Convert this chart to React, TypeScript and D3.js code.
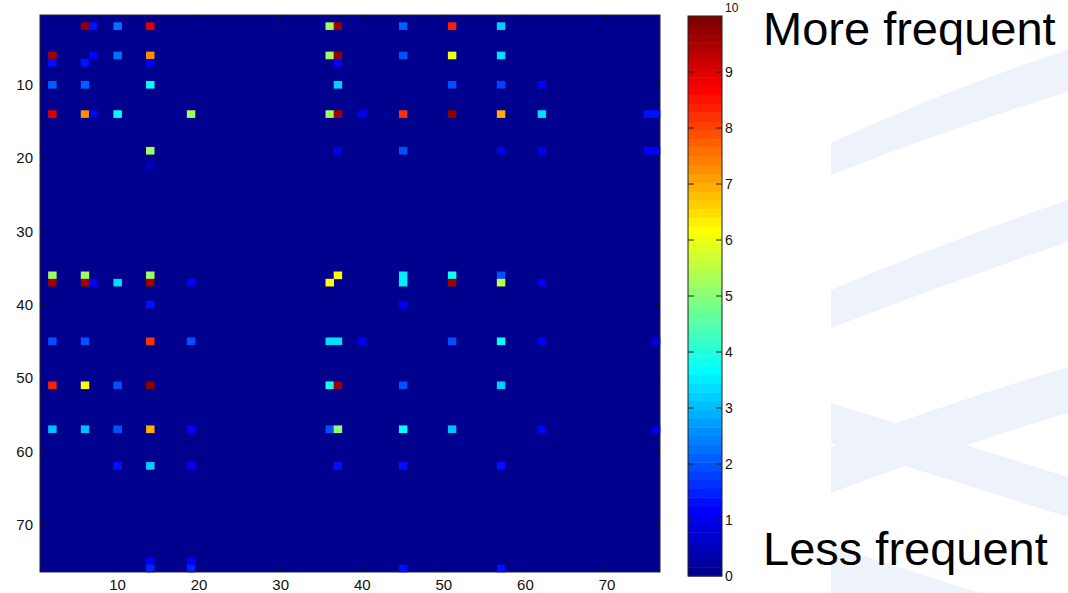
import React from "react";
import * as d3 from "d3";

// Sparse matrix entries: [row, column, value] (all other cells are 0)
const cells: [number, number, number][] = [
  [2, 6, 9.8], [2, 7, 1.3], [2, 10, 2.3], [2, 14, 9.0], [2, 36, 5.2], [2, 37, 9.6], [2, 45, 2.1], [2, 51, 8.4], [2, 57, 3.2],
  [6, 2, 9.6], [6, 7, 1.2], [6, 10, 2.2], [6, 14, 7.2], [6, 36, 5.2], [6, 37, 9.7], [6, 45, 1.9], [6, 51, 6.0], [6, 57, 3.3],
  [7, 2, 1.3], [7, 6, 1.3], [7, 14, 1.2], [7, 37, 1.2],
  [10, 2, 2.1], [10, 6, 2.1], [10, 14, 3.6], [10, 37, 3.2], [10, 51, 1.9], [10, 57, 1.8], [10, 62, 1.1],
  [14, 2, 9.0], [14, 6, 7.3], [14, 7, 1.1], [14, 10, 3.6], [14, 19, 5.3], [14, 36, 5.3], [14, 37, 9.6], [14, 40, 1.0],
  [14, 45, 8.2], [14, 51, 9.7], [14, 57, 7.0], [14, 62, 3.4], [14, 75, 1.3], [14, 76, 1.4],
  [19, 14, 5.2], [19, 37, 1.0], [19, 45, 1.9], [19, 57, 1.0], [19, 62, 1.0], [19, 75, 1.2], [19, 76, 1.2],
  [21, 14, 0.6],
  [36, 2, 5.2], [36, 6, 5.2], [36, 14, 5.2], [36, 37, 6.2], [36, 45, 3.5], [36, 51, 3.8], [36, 57, 2.0],
  [37, 2, 9.6], [37, 6, 9.6], [37, 7, 1.2], [37, 10, 3.4], [37, 14, 9.6], [37, 19, 1.1], [37, 36, 6.2], [37, 45, 3.5],
  [37, 51, 9.6], [37, 57, 5.6], [37, 62, 1.0],
  [40, 14, 1.3], [40, 45, 1.0],
  [45, 2, 2.0], [45, 6, 1.9], [45, 14, 8.2], [45, 19, 2.0], [45, 36, 3.4], [45, 37, 3.4], [45, 40, 1.0], [45, 51, 1.9],
  [45, 57, 3.6], [45, 62, 1.0], [45, 76, 0.9],
  [51, 2, 8.3], [51, 6, 6.2], [51, 10, 2.0], [51, 14, 9.7], [51, 36, 3.8], [51, 37, 9.6], [51, 45, 1.9], [51, 57, 3.2],
  [57, 2, 3.0], [57, 6, 3.0], [57, 10, 2.0], [57, 14, 7.0], [57, 19, 1.1], [57, 36, 2.0], [57, 37, 5.0], [57, 45, 3.6],
  [57, 51, 3.0], [57, 62, 1.1], [57, 76, 0.9],
  [62, 10, 1.3], [62, 14, 3.2], [62, 19, 1.1], [62, 37, 1.3], [62, 45, 1.3], [62, 57, 1.3],
  [75, 14, 1.0], [75, 19, 1.0],
  [76, 14, 1.5], [76, 19, 1.5], [76, 45, 1.3], [76, 57, 1.3],
];

const matrixSize = 76;
const axisTicks = [10, 20, 30, 40, 50, 60, 70];
const colorbarTicks = [0, 1, 2, 3, 4, 5, 6, 7, 8, 9, 10];
const valueRange: [number, number] = [0, 10];
const topLabel = "More frequent";
const bottomLabel = "Less frequent";

// MATLAB jet(64) colormap
function jetMap(m: number): string[] {
  const n = Math.ceil(m / 4);
  const u: number[] = [];
  for (let i = 1; i <= n; i++) u.push(i / n);
  for (let i = 1; i < n; i++) u.push(1);
  for (let i = n; i >= 1; i--) u.push(i / n);
  const gStart = Math.ceil(n / 2) - (m % 4 === 1 ? 1 : 0);
  const J = Array.from({ length: m }, () => [0, 0, 0]);
  u.forEach((val, k) => {
    const g = gStart + k + 1;
    const r = g + n;
    const b = g - n;
    if (r >= 1 && r <= m) J[r - 1][0] = val;
    if (g >= 1 && g <= m) J[g - 1][1] = val;
    if (b >= 1 && b <= m) J[b - 1][2] = val;
  });
  return J.map((c) => d3.rgb(c[0] * 255, c[1] * 255, c[2] * 255).formatHex());
}

const jet = jetMap(64);
const colorOf = (v: number) => {
  const idx = Math.min(63, Math.max(0, Math.floor(((v - valueRange[0]) / (valueRange[1] - valueRange[0])) * 64)));
  return jet[idx];
};

const FONT = "'Liberation Sans', Arial, Helvetica, sans-serif";

export default function App() {
  const plot = { left: 40, right: 660, top: 15, bottom: 572 };
  const cb = { left: 688, right: 722, top: 16, bottom: 576 };

  const x = d3.scaleLinear().domain([0.5, matrixSize + 0.5]).range([plot.left, plot.right]);
  const y = d3.scaleLinear().domain([0.5, matrixSize + 0.5]).range([plot.top, plot.bottom]);
  const cy = d3.scaleLinear().domain(valueRange).range([cb.bottom, cb.top]);

  const bands = d3.range(64);
  const bandH = (cb.bottom - cb.top) / 64;
  const tickLen = 5;

  const bandFill = "#eef2fa";
  const bgBands = [
    "M831,143 Q950,88 1068,50 L1068,92 Q950,128 831,175 Z",
    "M831,290 Q950,240 1068,200 L1068,242 Q950,282 831,328 Z",
    "M831,447 Q950,402 1068,367 L1068,413 Q950,448 831,493 Z",
    "M831,403 Q950,440 1068,477 L1068,517 Q950,480 831,443 Z",
    "M831,545 Q900,568 980,593 L831,593 Z",
  ];

  return (
    <svg width={1068} height={593} style={{ position: "absolute", left: 0, top: 0, background: "#fff" }}>
      {/* decorative background bands */}
      {bgBands.map((d, i) => (
        <path key={i} d={d} fill={bandFill} />
      ))}

      {/* heatmap background (value 0) */}
      <rect x={plot.left} y={plot.top} width={plot.right - plot.left} height={plot.bottom - plot.top} fill={colorOf(0)} />
      {cells.map(([r, c, v], i) => (
        <rect
          key={i}
          x={x(c - 0.5)}
          y={y(r - 0.5)}
          width={x(c + 0.5) - x(c - 0.5) + 0.3}
          height={y(r + 0.5) - y(r - 0.5) + 0.3}
          fill={colorOf(v)}
        />
      ))}
      <rect
        x={plot.left}
        y={plot.top}
        width={plot.right - plot.left}
        height={plot.bottom - plot.top}
        fill="none"
        stroke="#222"
        strokeWidth={1}
      />
      {/* ticks inside the box */}
      {axisTicks.map((t) => (
        <g key={"xt" + t} stroke="#111" strokeWidth={1}>
          <line x1={x(t)} x2={x(t)} y1={plot.bottom} y2={plot.bottom - tickLen} />
          <line x1={x(t)} x2={x(t)} y1={plot.top} y2={plot.top + tickLen} />
          <line x1={plot.left} x2={plot.left + tickLen} y1={y(t)} y2={y(t)} />
          <line x1={plot.right} x2={plot.right - tickLen} y1={y(t)} y2={y(t)} />
        </g>
      ))}
      {axisTicks.map((t) => (
        <text key={"xl" + t} x={x(t)} y={590} textAnchor="middle" fontFamily={FONT} fontSize={15} fill="#111">
          {t}
        </text>
      ))}
      {axisTicks.map((t) => (
        <text
          key={"yl" + t}
          x={33}
          y={y(t)}
          textAnchor="end"
          dominantBaseline="central"
          fontFamily={FONT}
          fontSize={15}
          fill="#111"
        >
          {t}
        </text>
      ))}

      {/* colorbar */}
      {bands.map((i) => (
        <rect
          key={"cb" + i}
          x={cb.left}
          y={cb.bottom - (i + 1) * bandH}
          width={cb.right - cb.left}
          height={bandH + 0.5}
          fill={jet[i]}
        />
      ))}
      <rect
        x={cb.left}
        y={cb.top}
        width={cb.right - cb.left}
        height={cb.bottom - cb.top}
        fill="none"
        stroke="#222"
        strokeWidth={1}
      />
      {colorbarTicks.map((t) => (
        <g key={"ct" + t} stroke="#222" strokeWidth={1}>
          {t > 0 && t < 10 && (
            <>
              <line x1={cb.left} x2={cb.left + 6} y1={cy(t)} y2={cy(t)} />
              <line x1={cb.right} x2={cb.right - 6} y1={cy(t)} y2={cy(t)} />
            </>
          )}
        </g>
      ))}
      {colorbarTicks.map((t) => (
        <text
          key={"cl" + t}
          x={cb.right + 3}
          y={t === 10 ? 8 : cy(t)}
          dominantBaseline="central"
          fontFamily={FONT}
          fontSize={t === 10 ? 12 : 14}
          fill="#111"
        >
          {t}
        </text>
      ))}

      {/* annotations */}
      <text x={763} y={45} fontFamily={FONT} fontSize={47} fill="#000">
        {topLabel}
      </text>
      <text x={763} y={565} fontFamily={FONT} fontSize={47} fill="#000">
        {bottomLabel}
      </text>
    </svg>
  );
}
